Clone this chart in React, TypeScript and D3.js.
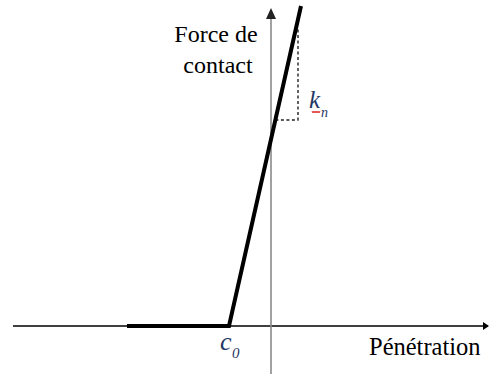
import React from 'react';
import * as d3 from 'd3';

// chart size, same as the picture
const W = 489;
const H = 374;

// force / penetration law (arbitrary units, origin where the axes cross)
const lawX = [-14.4, -4.2, 3.0];
const lawY = [0, 0, 32.0];

// the slope triangle that shows k_n
const slopeX = [0.44, 2.7, 2.7];
const slopeY = [20.6, 20.6, 29.8];

// axes extents
const axisXRange = [-25.8, 21.8];
const axisYRange = [-4.8, 31.8];

const c0 = -4.2;

const xScale = d3.scaleLinear().domain([-25.8, 21.8]).range([13, 489]);
const yScale = d3.scaleLinear().domain([0, 32]).range([326, 6]);

const serif = '"Liberation Serif", "Times New Roman", serif';
const navy = '#1f3864';

export default function App() {
  const line = d3.line<number>()
    .x((d, i) => xScale(lawX[i]))
    .y((d, i) => yScale(lawY[i]));

  const slope = d3.line<number>()
    .x((d, i) => xScale(slopeX[i]))
    .y((d, i) => yScale(slopeY[i]));

  const x0 = xScale(0);
  const y0 = yScale(0);
  const yTop = yScale(axisYRange[1]);
  const xRight = xScale(axisXRange[1]);
  const cx = xScale(c0);

  // small red wavy underline (spell-check mark) under k
  const kx = 312;
  const ky = 111;
  const wave = d3.range(0, 9, 1).map((i) => [kx + i, ky + (i % 2 === 0 ? 0 : 2)] as [number, number]);

  return (
    <svg width={W} height={H} style={{ position: 'fixed', left: 0, top: 0, background: '#fff' }}>
      {/* horizontal axis */}
      <line x1={xScale(axisXRange[0])} x2={xRight - 1} y1={y0} y2={y0} stroke="#000" strokeWidth={1.5} />
      <path d={`M${xRight},${y0} l-6,-4 v8 z`} fill="#000" />

      {/* vertical axis */}
      <line x1={x0} x2={x0} y1={yScale(axisYRange[0])} y2={yTop + 8} stroke="#8a8a8a" strokeWidth={1.6} />
      <path d={`M${x0},${yTop} l-5,11 h10 z`} fill="#222" />

      {/* slope triangle */}
      <path d={slope(slopeX) || ''} fill="none" stroke="#222" strokeWidth={1.4} strokeDasharray="3,2.5" />

      {/* law */}
      <path d={line(lawX) || ''} fill="none" stroke="#000" strokeWidth={4} strokeLinejoin="miter" />

      {/* labels */}
      <text x={216} y={42} textAnchor="middle" fontFamily={serif} fontSize={24} fill="#000">Force de</text>
      <text x={218} y={73} textAnchor="middle" fontFamily={serif} fontSize={24} fill="#000">contact</text>
      <text x={369} y={355} fontFamily={serif} fontSize={24.5} fill="#000">Pénétration</text>

      <text x={cx - 9} y={350} fontFamily={serif} fontSize={26} fontStyle="italic" fill={navy}>c</text>
      <text x={cx + 3} y={358} fontFamily={serif} fontSize={15} fontStyle="italic" fill={navy}>0</text>

      <text x={309} y={108} fontFamily={serif} fontSize={25} fontStyle="italic" fill={navy}>k</text>
      <text x={321} y={117} fontFamily={serif} fontSize={14} fontStyle="italic" fill={navy}>n</text>
      <path d={d3.line()(wave) || ''} fill="none" stroke="#e03030" strokeWidth={1} />
    </svg>
  );
}
